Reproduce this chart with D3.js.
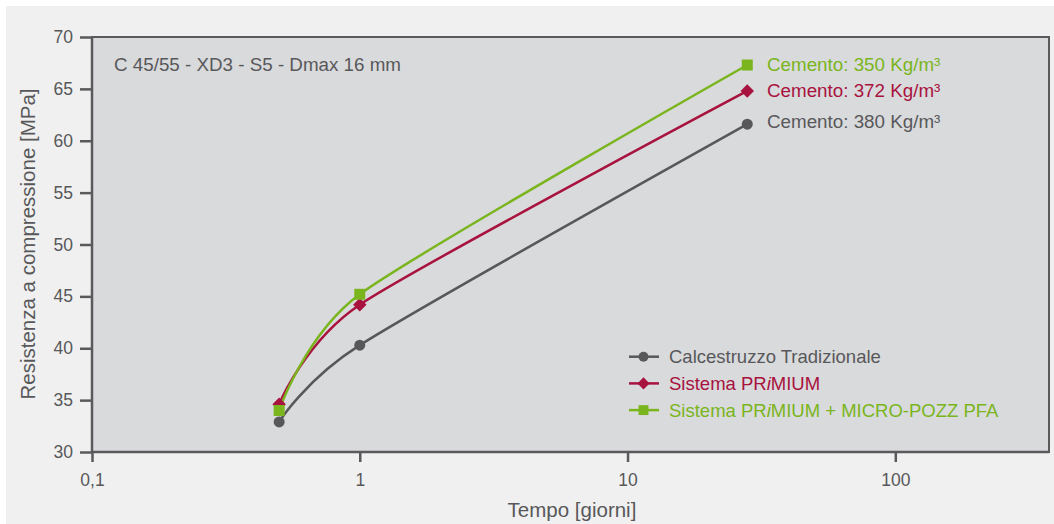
<!DOCTYPE html>
<html>
<head>
<meta charset="utf-8">
<script src="https://cdn.jsdelivr.net/npm/d3@7"></script>
<style>
  body { margin: 0; background: #fff; }
  svg { display: block; font-family: "Liberation Sans", Arial, sans-serif; }
</style>
</head>
<body>
<svg id="chart" width="1054" height="524"></svg>
<script>
// data (time in days, strength in MPa)
const days = [0.5, 1, 28];
const traditional = [32.9, 40.3, 61.6];
const primium = [34.6, 44.2, 64.8];
const primiumPfa = [34.0, 45.2, 67.3];
const seriesNames = ['Calcestruzzo Tradizionale', 'Sistema PRiMIUM', 'Sistema PRiMIUM + MICRO-POZZ PFA'];
const cementLabels = ['Cemento: 380 Kg/m³', 'Cemento: 372 Kg/m³', 'Cemento: 350 Kg/m³'];
const xTicks = [0.1, 1, 10, 100];
const yTicks = [30, 35, 40, 45, 50, 55, 60, 65, 70];

const colors = ['#58585a', '#a8123e', '#7ab51d'];
const textGray = '#58585a';

const svg = d3.select('#chart');
const plotLeft = 92, plotRight = 1049, plotTop = 37, plotBottom = 452;

// backgrounds
svg.append('rect').attr('x', 6).attr('y', 6).attr('width', 1048).attr('height', 518).attr('fill', '#f0f0f0');
svg.append('rect').attr('x', plotLeft).attr('y', plotTop).attr('width', plotRight - plotLeft).attr('height', plotBottom - plotTop)
    .attr('fill', '#d9dadc').attr('stroke', '#5a5a5c').attr('stroke-width', 2);

const x = d3.scaleLog().domain([0.1, 375]).range([plotLeft, plotRight]);
const y = d3.scaleLinear().domain([30, 70]).range([plotBottom, plotTop]);

// axes
const xAxis = svg.append('g').attr('transform', `translate(0,${plotBottom})`)
    .call(d3.axisBottom(x).tickValues(xTicks).tickSize(10).tickPadding(12)
        .tickFormat(d => String(d).replace('.', ',')));
const yAxis = svg.append('g').attr('transform', `translate(${plotLeft},0)`)
    .call(d3.axisLeft(y).tickValues(yTicks).tickSize(12).tickPadding(7));

[xAxis, yAxis].forEach(a => {
    a.select('.domain').attr('stroke', '#5a5a5c').attr('stroke-width', 2.5);
    a.selectAll('.tick line').attr('stroke', '#5a5a5c').attr('stroke-width', 2.5);
    a.selectAll('.tick text').attr('fill', textGray).attr('font-size', 17.5)
        .attr('font-family', '"Liberation Sans", Arial, sans-serif');
});
xAxis.select('.domain').attr('d', `M${plotLeft},0H${plotRight}`);
yAxis.select('.domain').attr('d', `M0,${plotTop}V${plotBottom}`);

// axis titles
svg.append('text').attr('x', 572).attr('y', 517).attr('text-anchor', 'middle')
    .attr('font-size', 20.5).attr('fill', textGray).text('Tempo [giorni]');
svg.append('text').attr('transform', 'translate(35,244) rotate(-90)').attr('text-anchor', 'middle')
    .attr('font-size', 20.5).attr('fill', textGray).text('Resistenza a compressione [MPa]');

svg.append('text').attr('x', 114).attr('y', 71).attr('font-size', 18.8).attr('fill', textGray)
    .text('C 45/55 - XD3 - S5 - Dmax 16 mm');

// lines
const allSeries = [traditional, primium, primiumPfa];
const line = d3.line().x(d => x(d[0])).y(d => y(d[1])).curve(d3.curveCardinal.tension(0.3));

// circle, diamond (rotated square), square
const markerPath = [
    d3.symbol().type(d3.symbolCircle).size(95),
    d3.symbol().type(d3.symbolSquare).size(90),
    d3.symbol().type(d3.symbolSquare).size(121)
];
const markerRotate = [0, 45, 0];

allSeries.forEach((vals, i) => {
    const pts = days.map((d, j) => [d, vals[j]]);
    svg.append('path').attr('d', line(pts)).attr('fill', 'none')
        .attr('stroke', colors[i]).attr('stroke-width', 2.5);
});
allSeries.forEach((vals, i) => {
    svg.selectAll(null).data(days.map((d, j) => [d, vals[j]])).enter()
        .append('path').attr('d', markerPath[i]())
        .attr('transform', d => `translate(${x(d[0])},${y(d[1])}) rotate(${markerRotate[i]})`)
        .attr('fill', colors[i]);
});

// end labels
const labelY = [128, 97, 71];
allSeries.forEach((vals, i) => {
    svg.append('text').attr('x', 767).attr('y', labelY[i]).attr('font-size', 18.8)
        .attr('fill', colors[i]).text(cementLabels[i]);
});

// legend
const legend = svg.append('g');
seriesNames.forEach((name, i) => {
    const ly = 356.7 + i * 26.7;
    legend.append('line').attr('x1', 629).attr('x2', 659).attr('y1', ly).attr('y2', ly)
        .attr('stroke', colors[i]).attr('stroke-width', 2.5);
    legend.append('path').attr('d', markerPath[i]())
        .attr('transform', `translate(643.5,${ly}) rotate(${markerRotate[i]}) scale(0.9)`)
        .attr('fill', colors[i]);
    const t = legend.append('text').attr('x', 669).attr('y', ly + 6.5).attr('font-size', 18.5).attr('fill', colors[i]);
    if (name.includes('PRiMIUM')) {
        const parts = name.split('PRiMIUM');
        t.append('tspan').text(parts[0] + 'PR');
        t.append('tspan').attr('font-style', 'italic').text('i');
        t.append('tspan').text('MIUM' + parts[1]);
    } else {
        t.text(name);
    }
});
</script>
</body>
</html>
